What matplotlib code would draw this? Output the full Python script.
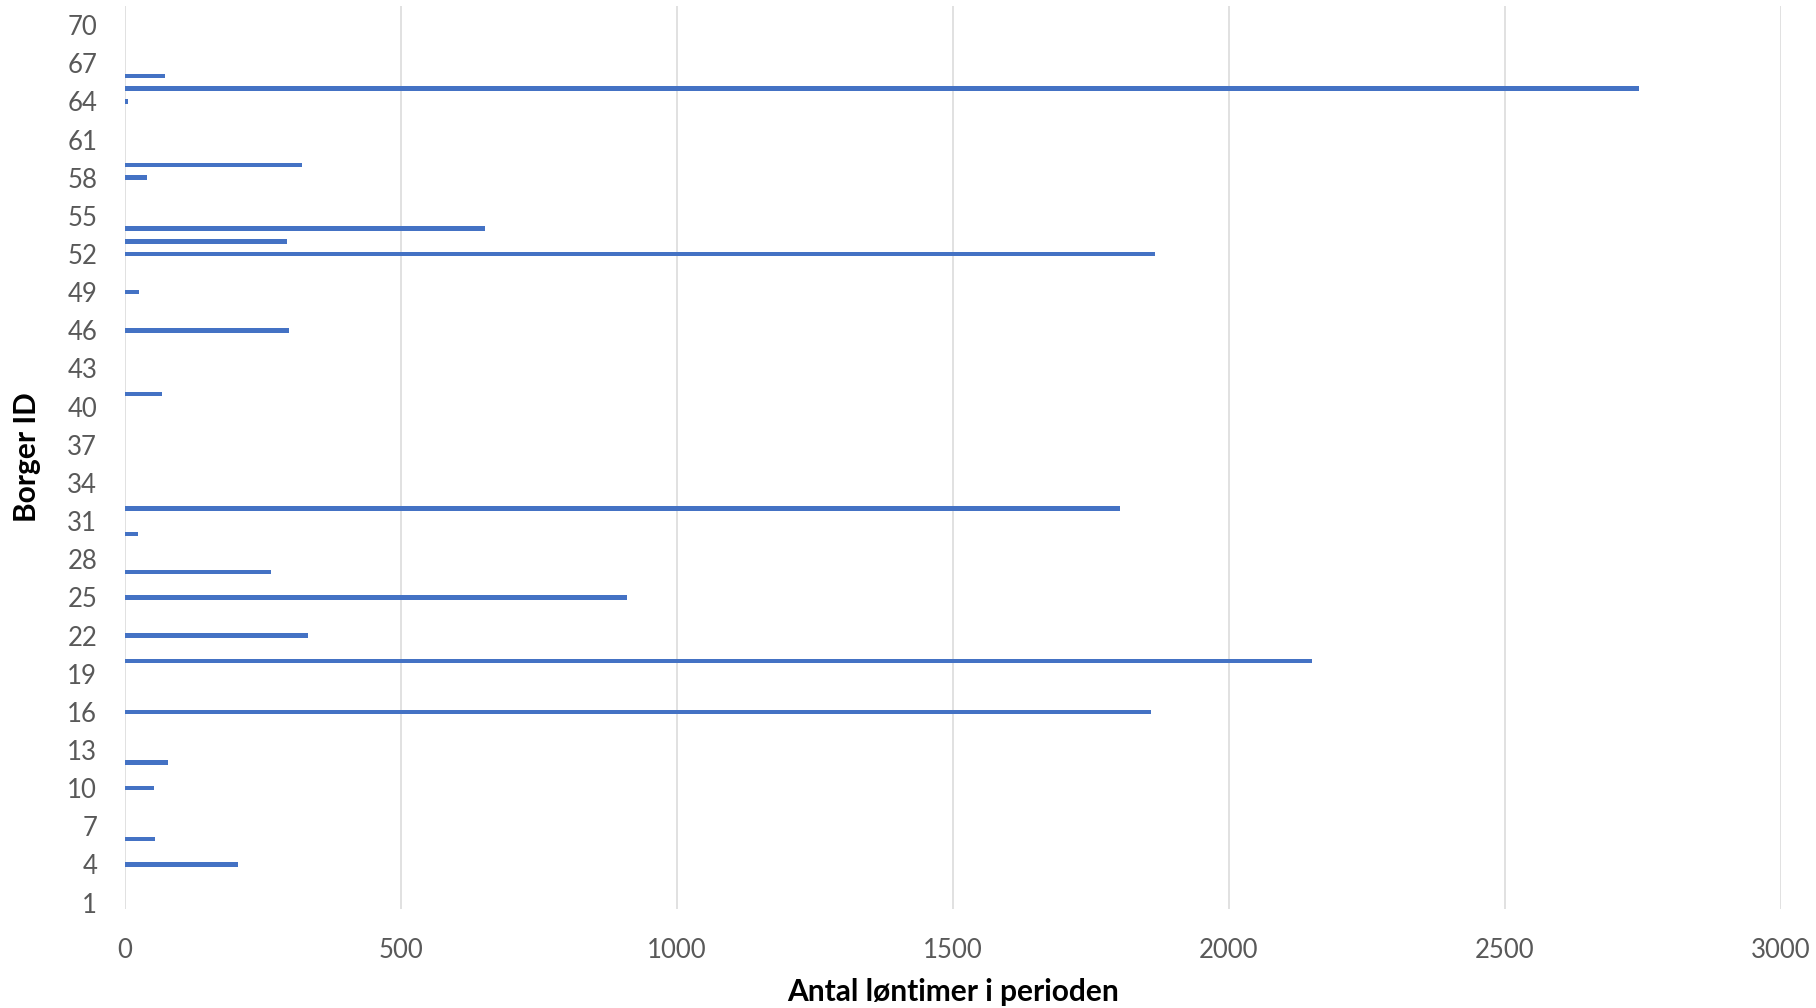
import matplotlib
matplotlib.use("Agg")
import matplotlib.pyplot as plt

# Borger ID 1..71, only those with hours drawn (the rest are 0)
n_borgere = 71
borger_id = [4, 6, 10, 12, 16, 20, 22, 25, 27, 30, 32, 41, 46, 49, 52, 53, 54, 58, 59, 64, 65, 66]
loentimer = [204, 55, 52, 77, 1858, 2151, 331, 910, 264, 23, 1803, 67, 297, 26, 1866, 293, 653, 39, 321, 6, 2743, 73]

y_ticks = [1, 4, 7, 10, 13, 16, 19, 22, 25, 28, 31, 34, 37, 40, 43, 46, 49, 52, 55, 58, 61, 64, 67, 70]
x_ticks = [0, 500, 1000, 1500, 2000, 2500, 3000]

plt.rcParams['font.family'] = ['Lato', 'DejaVu Sans']

fig = plt.figure(figsize=(18.16, 10.08), dpi=100)
ax = fig.add_axes([125 / 1816, 1 - 909 / 1008, 1656 / 1816, 903 / 1008])

ax.barh(borger_id, loentimer, height=0.36, color='#4472C4', zorder=3)

ax.set_xlim(0, 3000)
ax.set_ylim(0.5, n_borgere + 0.5)
ax.set_xticks(x_ticks)
ax.set_yticks(y_ticks)
ax.set_yticklabels([str(t) for t in y_ticks])

ax.grid(True, axis='x', color='#D9D9D9', linewidth=1.1, zorder=0)
ax.grid(False, axis='y')
for s in ax.spines.values():
    s.set_visible(False)

ax.tick_params(axis='both', length=0, labelsize=18.5, labelcolor='#595959')
ax.tick_params(axis='y', pad=20)
ax.tick_params(axis='x', pad=21)

ax.set_xlabel("Antal løntimer i perioden", fontsize=21.5, fontweight='bold', color='black', labelpad=11)
ax.set_ylabel("Borger ID", fontsize=21.5, fontweight='bold', color='black', labelpad=19)

fig.savefig("out.png", dpi=100)
